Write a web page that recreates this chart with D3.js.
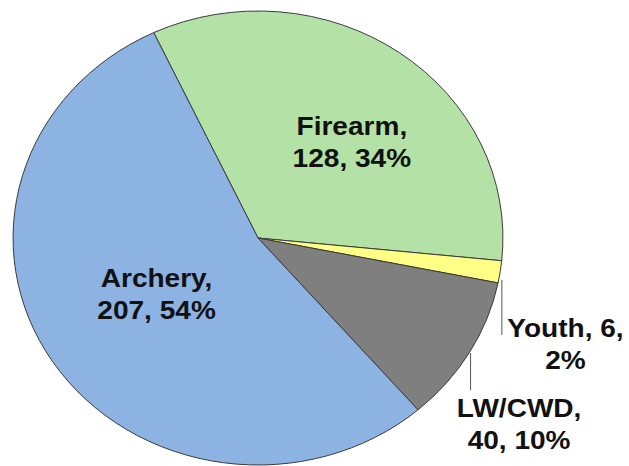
<!DOCTYPE html>
<html>
<head>
<meta charset="utf-8">
<script src="https://cdn.jsdelivr.net/npm/d3@7"></script>
<style>
  body { margin: 0; background: #fff; }
  text { font-family: "Liberation Sans", Arial, sans-serif; font-weight: bold; }
</style>
</head>
<body>
<div id="chart-area"></div>
<script>
const categories = ['Firearm', 'Youth', 'LW/CWD', 'Archery'];
const values = [128, 6, 40, 207];
const percents = ['34%', '2%', '10%', '54%'];
const colors = ['#b4e1a6', '#ffff85', '#7f7f7f', '#8db3e2'];

// label lines and leader lines, in pie-local units relative to the centre
const labelLayout = [
  {x: 87, y: -103, lines: ['Firearm,', '128, 34%']},
  {x: 285, y: 99, lines: ['Youth, 6,', '2%'], leader: [226, 42, 226, 97]},
  {x: 242, y: 179, lines: ['LW/CWD,', '40, 10%'], leader: [197, 115, 197, 152]},
  {x: -94, y: 49, lines: ['Archery,', '207, 54%']}
];

const width = 629;
const height = 466;
const center = {x: 258, y: 238};
const radius = 227;
const stretch = 1.079;
const lineHeight = 32;

const svg = d3.select('#chart-area').append('svg')
  .attr('width', width)
  .attr('height', height);

const canvas = svg.append('g')
  .attr('transform', `translate(${center.x}, ${center.y}) scale(${stretch}, 1)`);

const startAngle = -25.2 * Math.PI / 180;
const pie = d3.pie()
  .sort(null)
  .startAngle(startAngle)
  .endAngle(startAngle + 2 * Math.PI);

const arc = d3.arc()
  .innerRadius(0)
  .outerRadius(radius);

const data = categories.map((c, i) => ({category: c, value: values[i], percent: percents[i]}));

canvas.selectAll('path.slice')
  .data(pie.value(d => d.value)(data))
  .enter()
  .append('path')
  .attr('class', 'slice')
  .attr('d', arc)
  .attr('fill', (d, i) => colors[i])
  .attr('stroke', '#3a3a3a')
  .attr('stroke-width', 1)
  .attr('vector-effect', 'non-scaling-stroke');

labelLayout.forEach(l => {
  if (l.leader) {
    canvas.append('line')
      .attr('x1', l.leader[0]).attr('y1', l.leader[1])
      .attr('x2', l.leader[2]).attr('y2', l.leader[3])
      .attr('stroke', '#555')
      .attr('stroke-width', 1)
      .attr('vector-effect', 'non-scaling-stroke');
  }
  const t = canvas.append('text')
    .attr('text-anchor', 'middle')
    .attr('font-size', '26px')
    .attr('fill', '#111');
  l.lines.forEach((s, j) => {
    t.append('tspan')
      .attr('x', l.x)
      .attr('y', l.y + j * lineHeight)
      .text(s);
  });
});
</script>
</body>
</html>
